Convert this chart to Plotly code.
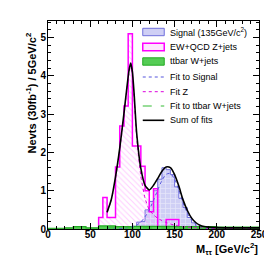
import plotly.graph_objects as go

# ---------------- data ----------------
bin_width = 5

# EW+QCD Z+jets histogram (low bin edges, GeV)
z_bins = [60, 65, 70, 75, 80, 85, 90, 95, 100, 105, 110, 115, 120, 125, 130, 135, 140, 145, 150]
z_vals = [0.30, 0.82, 0.30, 0.30, 1.62, 2.69, 3.21, 5.10, 2.17, 2.17, 1.64, 1.00, 0.45, 1.05, 0.0, 0.0, 0.25, 0.25, 0.25]

# Signal (135 GeV/c^2) histogram
sig_bins = [65, 70, 75, 80, 85, 90, 95, 100, 105, 110, 115, 120, 125, 130, 135, 140, 145, 150, 155, 160, 165, 170, 175, 180, 185]
sig_vals = [0.05, 0.05, 0.05, 0.0, 0.0, 0.0, 0.03, 0.05, 0.18, 0.20, 0.50, 0.72, 1.00, 1.30, 1.60, 1.55, 1.42, 1.10, 0.80, 0.56, 0.30, 0.16, 0.07, 0.03, 0.02]

# ttbar W+jets histogram
tt_bins = list(range(0, 250, 5))
tt_vals = [0.02, 0.02, 0.02, 0.02, 0.03, 0.03, 0.06, 0.06, 0.06, 0.03,
           0.03, 0.03, 0.08, 0.08, 0.08, 0.08, 0.06, 0.06, 0.06, 0.06,
           0.07, 0.07, 0.07, 0.07, 0.07, 0.07, 0.07, 0.07, 0.07, 0.07,
           0.06, 0.06, 0.06, 0.06, 0.06, 0.06, 0.06, 0.06, 0.06, 0.06,
           0.05, 0.05, 0.05, 0.05, 0.05, 0.05, 0.05, 0.05, 0.05, 0.05]

# Fit curves
fit_x = [70, 75, 80, 85, 90, 93, 96, 98, 100, 102, 105, 110, 115, 120, 125, 130, 135, 140, 145,
         150, 155, 160, 165, 170, 175, 180, 185, 190, 200, 210, 220, 230, 240, 250]
fit_z = [0.42, 0.75, 1.33, 2.08, 2.98, 3.55, 4.08, 4.30, 4.02, 3.45, 2.40, 1.38, 0.80, 0.50, 0.37, 0.28, 0.22, 0.17, 0.13,
         0.10, 0.08, 0.06, 0.05, 0.04, 0.035, 0.03, 0.025, 0.02, 0.015, 0.01, 0.01, 0.01, 0.01, 0.01]
fit_sig = [0.0, 0.0, 0.005, 0.01, 0.02, 0.03, 0.04, 0.05, 0.06, 0.07, 0.10, 0.18, 0.32, 0.50, 0.75, 1.02, 1.27, 1.43, 1.45,
           1.30, 1.02, 0.68, 0.42, 0.23, 0.12, 0.05, 0.02, 0.01, 0.0, 0.0, 0.0, 0.0, 0.0, 0.0]
fit_tt = [0.03, 0.03, 0.03, 0.03, 0.03, 0.03, 0.03, 0.03, 0.03, 0.03, 0.03, 0.03, 0.03, 0.025, 0.025, 0.025, 0.025, 0.025, 0.025,
          0.02, 0.02, 0.02, 0.02, 0.02, 0.02, 0.02, 0.02, 0.02, 0.02, 0.02, 0.02, 0.02, 0.02, 0.02]
fit_sum = [0.44, 0.77, 1.36, 2.11, 3.02, 3.60, 4.14, 4.33, 4.10, 3.54, 2.52, 1.58, 1.14, 1.02, 1.14, 1.32, 1.51, 1.62, 1.60,
           1.42, 1.12, 0.76, 0.49, 0.29, 0.17, 0.10, 0.065, 0.05, 0.035, 0.03, 0.03, 0.03, 0.03, 0.03]

legend_labels = ["Signal (135GeV/c<sup>2</sup>)", "EW+QCD Z+jets", "ttbar W+jets",
                 "Fit to Signal", "Fit Z", "Fit to ttbar W+jets", "Sum of fits"]

# ---------------- helpers ----------------
def step(bins, vals):
    xs = [bins[0]]
    ys = [0]
    for b, v in zip(bins, vals):
        xs.append(b)
        ys.append(v)
    xs.append(bins[-1] + bin_width)
    ys.append(0)
    return xs, ys

W, H = 272, 256
ML, MR, MT, MB = 40, 16, 13, 35
PW, PH = W - ML - MR, H - MT - MB

def px(x):
    return (x - ML) / PW

def py(y):
    return (H - MB - y) / PH

SIG_LINE = "#6f6fdc"
Z_LINE = "#ff00ff"
TT_LINE = "#22aa22"

fig = go.Figure()

x, y = step(sig_bins, sig_vals)
fig.add_trace(go.Scatter(x=x, y=y, mode="lines", line=dict(color=SIG_LINE, width=1, shape="hv"),
                         fill="tozeroy", fillcolor="#d4d4f6",
                         fillpattern=dict(shape="+", fgcolor="white", bgcolor="#cfcff5", size=5, solidity=0.25),
                         showlegend=False))

x, y = step(z_bins, z_vals)
fig.add_trace(go.Scatter(x=x, y=y, mode="lines", line=dict(color=Z_LINE, width=1.5, shape="hv"),
                         fill="tozeroy",
                         fillpattern=dict(shape="\\", fgcolor="#ff99ff", bgcolor="rgba(255,255,255,0)", size=4, solidity=0.25),
                         showlegend=False))

x, y = step(tt_bins, tt_vals)
fig.add_trace(go.Scatter(x=x, y=y, mode="lines", line=dict(color=TT_LINE, width=1.2, shape="hv"),
                         fill="tozeroy", fillcolor="#55cc55", showlegend=False))

fig.add_trace(go.Scatter(x=fit_x, y=fit_sig, mode="lines",
                         line=dict(color="#5555dd", width=1, dash="dot", shape="spline", smoothing=0.6),
                         showlegend=False))
fig.add_trace(go.Scatter(x=fit_x, y=fit_z, mode="lines",
                         line=dict(color="#dd00dd", width=1, dash="dot", shape="spline", smoothing=0.6),
                         showlegend=False))
fig.add_trace(go.Scatter(x=fit_x, y=fit_tt, mode="lines",
                         line=dict(color="#33bb33", width=1, dash="dash", shape="spline", smoothing=0.6),
                         showlegend=False))
fig.add_trace(go.Scatter(x=fit_x, y=fit_sum, mode="lines",
                         line=dict(color="black", width=1.6, shape="spline", smoothing=0.6),
                         showlegend=False))

# ---------------- manual legend ----------------
row_y = [24, 39, 53.5, 69, 83.7, 98, 112.3]
sx0, sx1, tx = 137, 159, 163
shapes = []
annotations = []
box_styles = [
    dict(fillcolor="#cfcff5", line=dict(color=SIG_LINE, width=1)),
    dict(fillcolor="#fde6fd", line=dict(color=Z_LINE, width=1.5)),
    dict(fillcolor="#55cc55", line=dict(color=TT_LINE, width=1)),
]
line_styles = [
    dict(color="#5555dd", width=1, dash="dot"),
    dict(color="#dd00dd", width=1, dash="dot"),
    dict(color="#33bb33", width=1, dash="dash"),
    dict(color="black", width=1.6),
]
for i, lab in enumerate(legend_labels):
    yc = row_y[i]
    if i < 3:
        shapes.append(dict(type="rect", xref="paper", yref="paper",
                           x0=px(sx0), x1=px(sx1), y0=py(yc + 3.7), y1=py(yc - 3.7), **box_styles[i]))
    else:
        shapes.append(dict(type="line", xref="paper", yref="paper",
                           x0=px(sx0), x1=px(sx1), y0=py(yc), y1=py(yc), line=line_styles[i - 3]))
    annotations.append(dict(text=lab, xref="paper", yref="paper", x=px(tx), y=py(yc),
                            xanchor="left", yanchor="middle", showarrow=False,
                            font=dict(family="Liberation Sans", size=9, color="black")))

# axis titles (ROOT style, aligned at axis ends)
annotations.append(dict(text="Nevts (30fb<sup>-1</sup>) / 5GeV/c<sup>2</sup>", xref="paper", yref="paper",
                        x=px(23), y=py(85), textangle=-90, showarrow=False,
                        xanchor="center", yanchor="middle",
                        font=dict(family="Liberation Sans", size=11, color="black", weight="bold")))
annotations.append(dict(text="M<sub>\u03c4\u03c4</sub> [GeV/c<sup>2</sup>]", xref="paper", yref="paper",
                        x=px(257), y=py(241), showarrow=False, xanchor="right", yanchor="middle",
                        font=dict(family="Liberation Sans", size=11, color="black", weight="bold")))

tickfont = dict(family="Liberation Sans", size=10, color="black", weight="bold")
fig.update_layout(
    width=W, height=H,
    margin=dict(l=ML, r=MR, t=MT, b=MB),
    paper_bgcolor="white", plot_bgcolor="white",
    showlegend=False,
    shapes=shapes, annotations=annotations,
    xaxis=dict(range=[0, 250], tickvals=[0, 50, 100, 150, 200, 250], ticks="inside", ticklen=6,
               tickcolor="black", showline=True, linecolor="black", linewidth=1, mirror="allticks",
               showgrid=False, zeroline=False, tickfont=tickfont, ticklabelstandoff=-4,
               minor=dict(ticks="inside", ticklen=3, dtick=10, tickcolor="black", showgrid=False)),
    yaxis=dict(range=[0, 5.43], tickvals=[0, 1, 2, 3, 4, 5], ticks="inside", ticklen=6,
               tickcolor="black", showline=True, linecolor="black", linewidth=1, mirror="allticks",
               showgrid=False, zeroline=False, tickfont=tickfont, ticklabelstandoff=-1,
               minor=dict(ticks="inside", ticklen=3, dtick=0.2, tickcolor="black", showgrid=False)),
)

fig.write_html("out.html")
